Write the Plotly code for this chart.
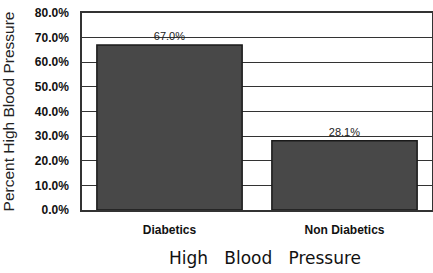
import plotly.graph_objects as go

categories = ["Diabetics", "Non Diabetics"]
values = [67.0, 28.1]
labels = ["67.0%", "28.1%"]
tick_vals = [0, 10, 20, 30, 40, 50, 60, 70, 80]
tick_text = ["0.0%", "10.0%", "20.0%", "30.0%", "40.0%", "50.0%", "60.0%", "70.0%", "80.0%"]
x_title = "High   Blood   Pressure"
y_title = "Percent High Blood Pressure"

fig = go.Figure(go.Bar(
    x=categories, y=values, text=labels, textposition="outside",
    textfont=dict(family="Liberation Sans, Arial", size=11, color="#222"),
    marker=dict(color="#484848", line=dict(color="#1a1a1a", width=1.5)),
    width=0.83, cliponaxis=False,
))
fig.update_layout(
    width=433, height=273,
    margin=dict(l=82, r=1, t=13, b=63),
    plot_bgcolor="white", paper_bgcolor="white",
    showlegend=False,
    xaxis=dict(
        automargin=False,
        tickfont=dict(family="Liberation Sans, Arial", size=12, color="#111", weight="bold"),
        ticklabelstandoff=8,
        showline=True, linecolor="#333", linewidth=1.5, mirror=True,
        ticks="",
    ),
    yaxis=dict(
        automargin=False,
        range=[0, 80], tickvals=tick_vals, ticktext=tick_text,
        tickfont=dict(family="Liberation Sans, Arial", size=12, color="#111", weight="bold"),
        ticklabelstandoff=9, ticklabeloverflow="allow",
        title=dict(text=y_title, font=dict(family="Liberation Sans, Arial", size=15.5, color="#222"), standoff=17),
        showgrid=True, gridcolor="#333", gridwidth=1,
        showline=True, linecolor="#333", linewidth=1.5, mirror=True,
        ticks="", zeroline=False,
    ),
    annotations=[dict(
        text=x_title, xref="paper", yref="paper", x=0.524, y=0,
        xanchor="center", yanchor="middle", yshift=-48, showarrow=False,
        font=dict(family="DejaVu Sans", size=17, color="#111", weight=500),
    )],
)
fig.write_html("out.html", config={"displayModeBar": False},
               post_script="document.body.style.margin='0';document.body.style.overflow='hidden';")
